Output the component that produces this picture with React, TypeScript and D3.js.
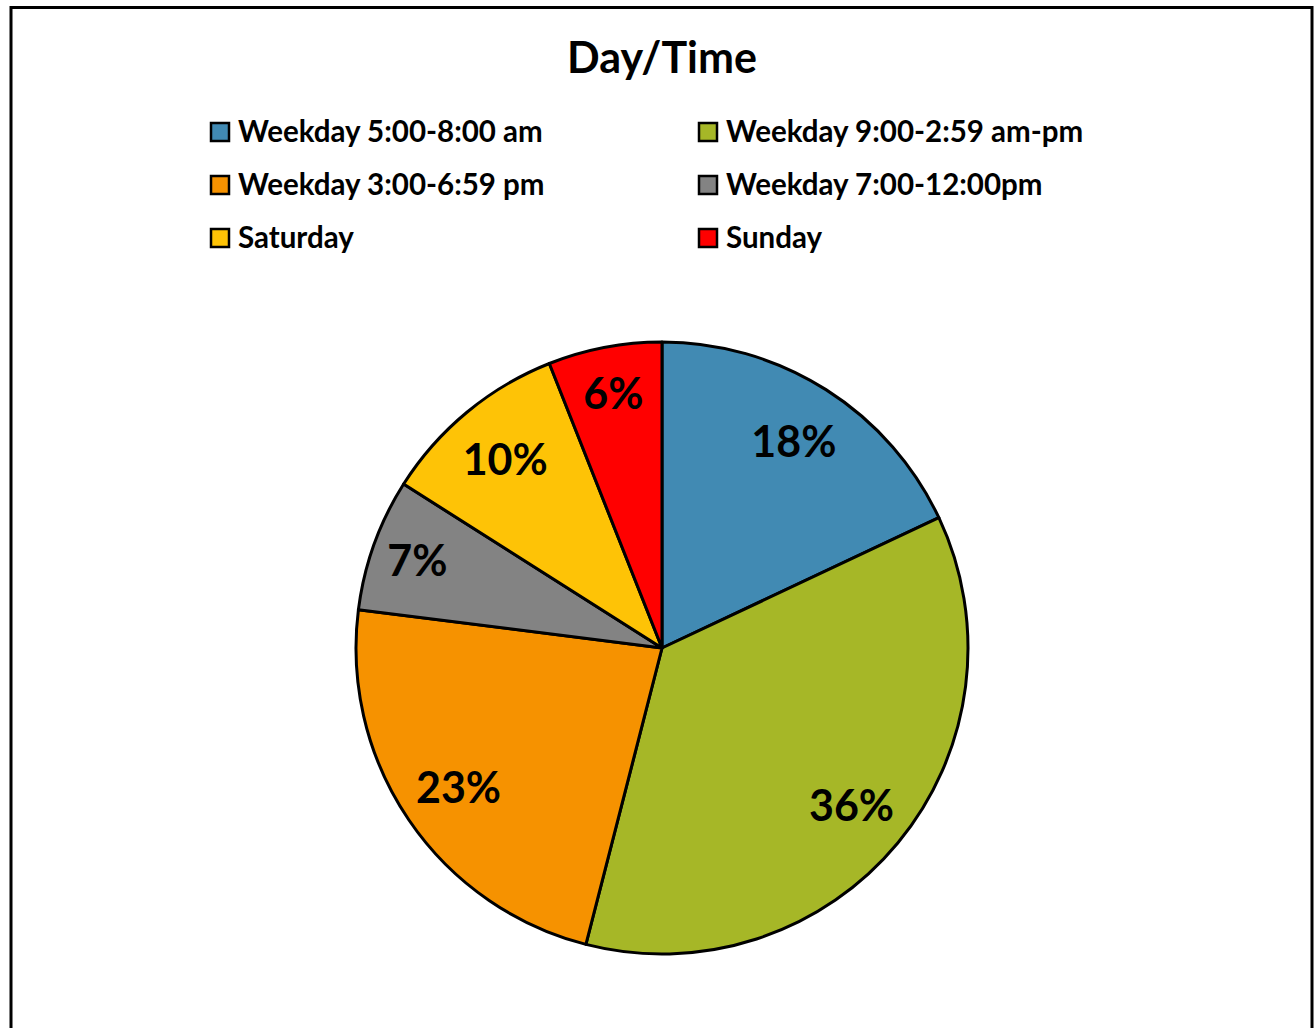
import React from "react";
import * as d3 from "d3";

const categories = [
  "Weekday 5:00-8:00 am",
  "Weekday 9:00-2:59 am-pm",
  "Weekday 3:00-6:59 pm",
  "Weekday 7:00-12:00pm",
  "Saturday",
  "Sunday",
];
const values = [18, 36, 23, 7, 10, 6];
const colors = ["#418AB3", "#A6B727", "#F69200", "#838383", "#FEC306", "#FF0000"];
const title = "Day/Time";

const W = 1314;
const H = 1028;
const FONT = "Lato, 'Open Sans', sans-serif";

export default function App() {
  const cx = 662;
  const cy = 648;
  const R = 306;
  const total = d3.sum(values);
  const pie = d3
    .pie<number>()
    .sort(null)
    .value((d) => d)(values);
  const arc = d3.arc<d3.PieArcDatum<number>>().innerRadius(0).outerRadius(R);
  const labelArc = (r: number) =>
    d3.arc<d3.PieArcDatum<number>>().innerRadius(r).outerRadius(r);

  const legendX = [210, 698];
  const legendY = [122, 175, 228];

  return (
    <svg
      width={W}
      height={H}
      style={{ position: "absolute", left: 0, top: 0 }}
    >
      <rect x={0} y={0} width={W} height={H} fill="#fff" />
      <rect
        x={11}
        y={7.5}
        width={1301}
        height={1040}
        fill="#fff"
        stroke="#000"
        strokeWidth={3}
      />
      <text
        x={662}
        y={73}
        textAnchor="middle"
        fontFamily={FONT}
        fontWeight="bold"
        fontSize={43}
        fill="#000"
      >
        {title}
      </text>
      {categories.map((c, i) => {
        const col = i % 2;
        const row = Math.floor(i / 2);
        const x = legendX[col];
        const y = legendY[row];
        return (
          <g key={c}>
            <rect
              x={x + 1}
              y={y + 1}
              width={18}
              height={18}
              fill={colors[i]}
              stroke="#000"
              strokeWidth={2.5}
            />
            <text
              x={x + 28}
              y={y + 20}
              fontFamily={FONT}
              fontWeight="bold"
              fontSize={29.5}
              fill="#000"
            >
              {c}
            </text>
          </g>
        );
      })}
      <g transform={`translate(${cx},${cy})`}>
        {pie.map((d, i) => (
          <path
            key={i}
            d={arc(d) || ""}
            fill={colors[i]}
            stroke="#000"
            strokeWidth={3}
            strokeLinejoin="round"
          />
        ))}
        {pie.map((d, i) => {
          const r = values[i] < 8 ? 260 : 246;
          const [lx, ly] = labelArc(r).centroid(d);
          return (
            <text
              key={"l" + i}
              x={lx}
              y={ly}
              textAnchor="middle"
              dominantBaseline="central"
              fontFamily={FONT}
              fontWeight="bold"
              fontSize={43}
              fill="#000"
            >
              {Math.round((values[i] / total) * 100) + "%"}
            </text>
          );
        })}
      </g>
    </svg>
  );
}
